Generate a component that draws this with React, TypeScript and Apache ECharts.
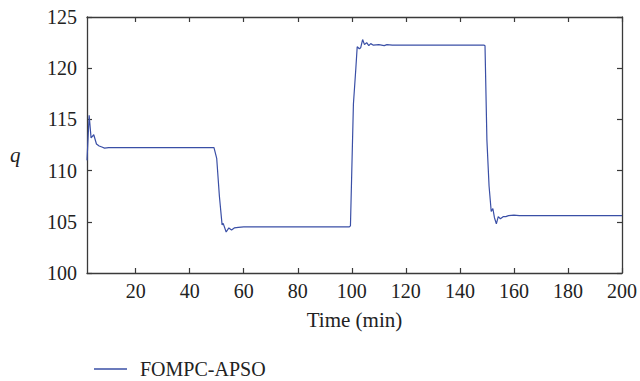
import React, { useEffect, useRef } from "react";
import * as echarts from "echarts";

const timeMin: number[] = [
  2, 2.8, 3.5, 4.5, 5.5, 6.5, 7.5, 8.5, 10, 49,
  50, 51, 52, 52.4, 53.5, 54.5, 55.5, 56.5, 58, 60, 99,
  99.5, 100, 100.6, 101.5, 102, 102.8, 103.3, 104, 104.7, 105.5, 106.3, 107, 108, 110, 112, 113, 115, 149,
  149.3, 150, 150.8, 151.6, 152.2, 152.8, 153.5, 154.2, 155, 156, 157, 158, 160, 162, 200,
];
const qValues: number[] = [
  111.0, 115.4, 113.2, 113.5, 112.6, 112.4, 112.3, 112.2, 112.25, 112.25,
  111.2, 107.5, 104.7, 104.85, 104.0, 104.4, 104.2, 104.4, 104.45, 104.5, 104.5,
  104.6, 110.0, 116.5, 120.0, 122.1, 121.9, 122.0, 122.8, 122.3, 122.5, 122.2, 122.4, 122.25, 122.3, 122.2, 122.3, 122.25, 122.25,
  122.2, 113.0, 108.5, 106.0, 106.3, 105.4, 104.8, 105.5, 105.3, 105.5, 105.5, 105.6, 105.65, 105.6, 105.6,
];
const xTicks: number[] = [20, 40, 60, 80, 100, 120, 140, 160, 180, 200];
const seriesName = "FOMPC-APSO";
const xName = "Time (min)";
const yName = "q";

const FONT = "'Liberation Serif', 'DejaVu Serif', serif";
const AXIS_COLOR = "#3a3a3a";
const LINE_COLOR = "#3a4fa6";

export default function App() {
  const ref = useRef<HTMLDivElement>(null);
  useEffect(() => {
    if (!ref.current) return;
    const chart = echarts.init(ref.current, null, { renderer: "svg" });
    const data = timeMin.map((t, i) => [t, qValues[i]]);
    const axisCommon = {
      axisLine: { show: true, onZero: false, lineStyle: { color: AXIS_COLOR, width: 1.3 } },
      axisTick: { show: true, inside: true, length: 5, lineStyle: { color: AXIS_COLOR, width: 1.2 } },
      splitLine: { show: false },
    };
    chart.setOption({
      animation: false,
      backgroundColor: "#ffffff",
      grid: { left: 87, right: 17, top: 17, bottom: 108, containLabel: false },
      legend: {
        show: true,
        left: 89,
        top: 354,
        itemWidth: 33,
        itemHeight: 1.4,
        icon: "rect",
        itemStyle: { color: LINE_COLOR },
        textStyle: { fontFamily: FONT, fontSize: 20, color: "#222", padding: [0, 0, 0, 8] },
        data: [{ name: seriesName, icon: "rect" }],
      },
      graphic: [
        {
          type: "text",
          left: 10,
          top: 144,
          style: { text: yName, font: "italic 21px 'Liberation Serif', serif", fill: "#222" },
        },
      ],
      xAxis: [
        {
          type: "value",
          min: 2,
          max: 200,
          ...axisCommon,
          axisTick: { ...axisCommon.axisTick, customValues: xTicks },
          axisLabel: {
            customValues: xTicks,
            fontFamily: FONT,
            fontSize: 20,
            color: "#222",
            margin: 8,
          },
          name: xName,
          nameLocation: "middle",
          nameGap: 36,
          nameTextStyle: { fontFamily: FONT, fontSize: 21, color: "#222" },
        },
        {
          type: "value",
          position: "top",
          min: 2,
          max: 200,
          ...axisCommon,
          axisTick: { ...axisCommon.axisTick, customValues: xTicks },
          axisLabel: { show: false, customValues: xTicks },
        },
      ],
      yAxis: [
        {
          type: "value",
          min: 100,
          max: 125,
          interval: 5,
          ...axisCommon,
          axisLabel: { fontFamily: FONT, fontSize: 20, color: "#222", margin: 10 },
        },
        {
          type: "value",
          position: "right",
          min: 100,
          max: 125,
          interval: 5,
          ...axisCommon,
          axisLabel: { show: false },
        },
      ],
      series: [
        {
          name: seriesName,
          type: "line",
          data,
          symbol: "none",
          showSymbol: false,
          lineStyle: { color: LINE_COLOR, width: 1.2 },
          itemStyle: { color: LINE_COLOR },
          xAxisIndex: 0,
          yAxisIndex: 0,
        },
      ],
    });
    return () => chart.dispose();
  }, []);
  return (
    <div
      ref={ref}
      style={{ position: "fixed", left: 0, top: 0, width: 640, height: 381, background: "#fff" }}
    />
  );
}
